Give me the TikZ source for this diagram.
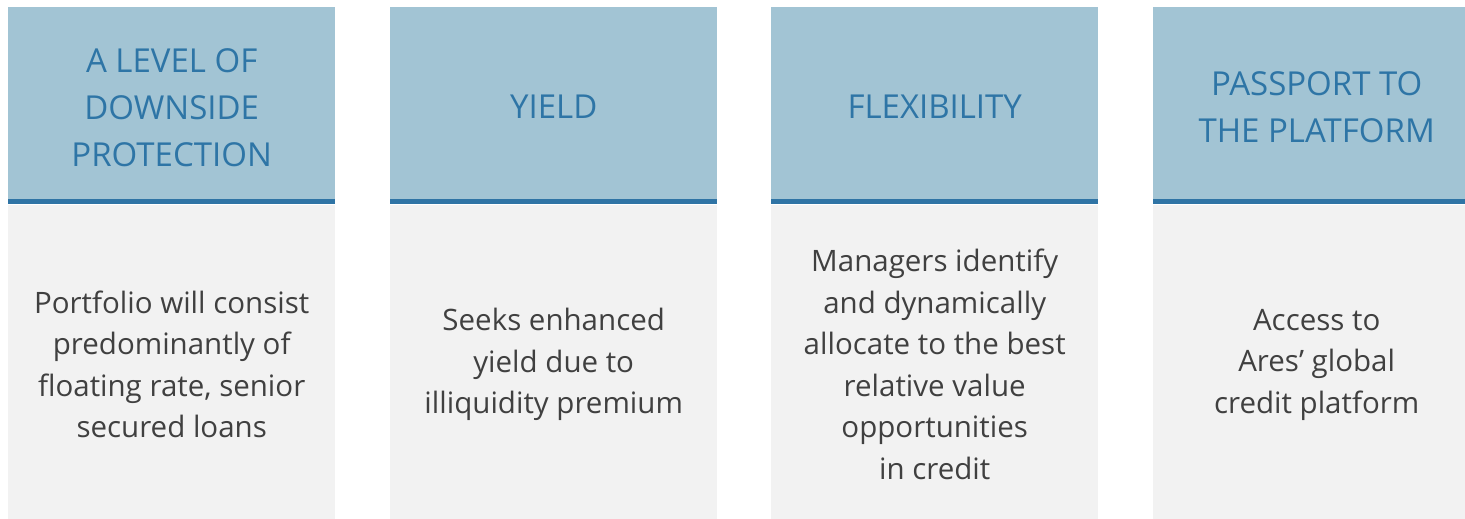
\documentclass[tikz,border=0pt]{standalone}
\usepackage{fontspec}
\setmainfont{Open Sans}
\usetikzlibrary{positioning}

\definecolor{headblue}{HTML}{A2C4D4}
\definecolor{headtext}{HTML}{2E75A6}
\definecolor{rulecol}{HTML}{2F74A5}
\definecolor{bodygray}{HTML}{F2F2F2}
\definecolor{bodytext}{HTML}{404040}

\tikzset{
  head/.style={fill=headblue, anchor=north west, inner sep=0pt,
    minimum width=327pt, minimum height=192pt},
  title/.style={text=headtext, align=center, inner sep=0pt,
    font=\fontsize{33}{47}\selectfont},
  body/.style={fill=bodygray, text=bodytext, inner sep=0pt,
    minimum width=327pt, minimum height=320pt, align=center,
    font=\fontsize{29.5}{41.5}\selectfont},
  headrule/.style={draw=rulecol, line width=5pt}
}

\begin{document}
\begin{tikzpicture}[x=1pt, y=1pt]
  \useasboundingbox (0,0) rectangle (1465,-519);

  % Header boxes
  \node[head] (h1) at (8,-7)    {};
  \node[head] (h2) at (390,-7)  {};
  \node[head] (h3) at (771,-7)  {};
  \node[head] (h4) at (1153,-7) {};

  % Titles
  \node[title] (t1) at ([yshift=-4pt]h1.center) {A LEVEL OF\\DOWNSIDE\\PROTECTION};
  \node[title] (t2) at ([yshift=-4pt]h2.center) {YIELD};
  \node[title] (t3) at ([yshift=-4pt]h3.center) {FLEXIBILITY};
  \node[title] (t4) at ([yshift=-4pt]h4.center) {PASSPORT TO\\THE PLATFORM};

  % Text boxes
  \node[body, below=5pt of h1] (b1) {Portfolio will consist\\predominantly of\\floating rate, senior\\secured loans};
  \node[body, below=5pt of h2] (b2) {Seeks enhanced\\yield due to\\illiquidity premium};
  \node[body, below=5pt of h3] (b3) {Managers identify\\and dynamically\\allocate to the best\\relative value\\opportunities\\in credit};
  \node[body, below=5pt of h4] (b4) {Access to\\Ares’ global\\credit platform};

  % Rules under headers
  \draw[headrule] ([yshift=-2.5pt]h1.south west) -- ([yshift=-2.5pt]h1.south east);
  \draw[headrule] ([yshift=-2.5pt]h2.south west) -- ([yshift=-2.5pt]h2.south east);
  \draw[headrule] ([yshift=-2.5pt]h3.south west) -- ([yshift=-2.5pt]h3.south east);
  \draw[headrule] ([yshift=-2.5pt]h4.south west) -- ([yshift=-2.5pt]h4.south east);
\end{tikzpicture}
\end{document}
